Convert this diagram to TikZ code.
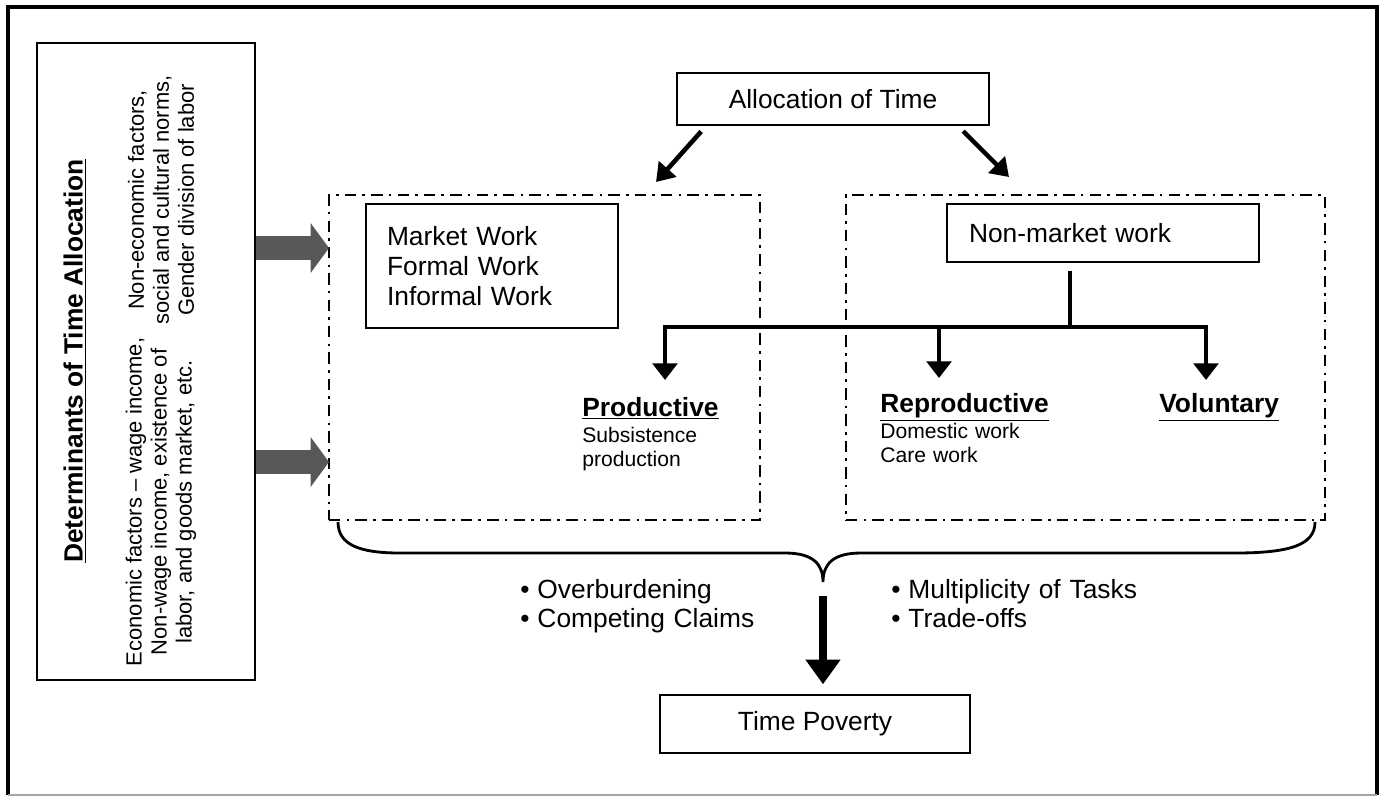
\documentclass[tikz,border=0pt]{standalone}
\usepackage{fontspec}
\setmainfont{Liberation Sans}
\usetikzlibrary{arrows.meta,positioning}
\definecolor{blockgray}{RGB}{88,88,88}
\newcommand{\bigfont}{\fontsize{15}{17}\selectfont}
\newcommand{\subfont}{\fontsize{12}{14}\selectfont}
\newcommand{\sidefont}{\fontsize{12.5}{14.2}\selectfont}

\begin{document}
\begin{tikzpicture}[x=0.02cm,y=-0.02cm,
  box/.style={draw,line width=0.8pt,inner sep=0pt,font=\bigfont},
  area/.style={draw,line width=1.4pt,dash pattern=on 6.5pt off 3.5pt on 1.5pt off 3.5pt},
  head/.style={font=\bigfont\bfseries,inner sep=0pt,anchor=base west},
  subtext/.style={font=\subfont,inner sep=0pt,anchor=base west,text width=3.5cm,align=left},
  listtext/.style={font=\bigfont,inner sep=0pt,anchor=base west,text width=6cm,align=left},
  blockarrow/.style={blockgray,line width=14pt,-{Triangle[length=10.5pt,width=28pt]}},
  thickarrow/.style={line width=2.6pt,-{Triangle[length=10pt,width=13pt]}},
  treeline/.style={line width=2.3pt},
  treearrow/.style={line width=2.3pt,-{Triangle[length=9.5pt,width=14pt]}},
  bigarrow/.style={line width=4pt,-{Triangle[length=14pt,width=19pt]}}]

\useasboundingbox (0,0) rectangle (1385,796);

%frame:
\draw[line width=2.2pt] (8,795) -- (8,7) -- (1377,7) -- (1377,795);
\draw[gray!70,line width=0.6pt] (8,795) -- (1377,795);

%determinants:
\node[box,line width=1.6pt,minimum width=4.36cm,minimum height=12.74cm] (detbox) at (146,361.5) {};
\node[rotate=90,font=\bigfont\bfseries] (dettitle) at (75,361) {\underline{Determinants of Time Allocation}};
\node[rotate=90,font=\sidefont,align=center] (econ) at (161,502) {Economic factors – wage income,\\Non-wage income, existence of\\labor, and goods market, etc.};
\node[rotate=90,font=\sidefont,align=center] (noneco) at (161,200) {Non-economic factors,\\social and cultural norms,\\Gender division of labor};

%work areas:
\node[area,minimum width=8.62cm,minimum height=6.5cm] (mktarea) at (544.5,357.5) {};
\node[area,minimum width=9.58cm,minimum height=6.5cm] (nmarea) at (1085.5,357.5) {};

\coordinate (upin) at (329,248);
\coordinate (lowin) at (329,462);
\draw[blockarrow] (detbox.east |- upin) -- (upin);
\draw[blockarrow] (detbox.east |- lowin) -- (lowin);

%allocation:
\node[box,line width=1pt,minimum width=6.24cm,minimum height=1.04cm] (alloc) at (833,99) {Allocation of Time};
\coordinate (atipL) at (656,182);
\coordinate (atipR) at (1009,177);
\draw[thickarrow,shorten <=0.15cm] ([xshift=0.6cm]alloc.south west) -- (atipL);
\draw[thickarrow,shorten <=0.15cm] ([xshift=-0.64cm]alloc.south east) -- (atipR);

\node[box,minimum width=5.04cm,minimum height=2.48cm,text width=4.2cm,inner xsep=0.42cm,align=left] (market) at (492,266) {Market Work\\Formal Work\\Informal Work};
\node[box,minimum width=6.24cm,minimum height=1.16cm,text width=5.36cm,inner xsep=0.44cm,align=left] (nonmkt) at (1103,233) {Non-market work};

%tree:
\coordinate (barmid) at (1070,327);
\coordinate (repjoin) at (939,327);
\coordinate (prodtip) at (665,380);
\coordinate (reptip) at (939,378);
\coordinate (voltip) at (1206,380);
\draw[treeline,shorten <=0.16cm] (nonmkt.south -| barmid) -- (barmid);
\draw[treearrow] (barmid) -| (prodtip);
\draw[treearrow] (barmid) -| (voltip);
\draw[treearrow] (repjoin) -- (reptip);

\node[head] (prod) at (582,416) {\underline{Productive}};
\node[subtext] (prodsub) at (582,442) {Subsistence\\production};
\node[head] (rep) at (880,412) {\underline{Reproductive}};
\node[subtext] (repsub) at (880,438) {Domestic work\\Care work};
\node[head] (vol) at (1159,412) {\underline{Voluntary}};

%brace:
\coordinate (bracel) at (338,522);
\coordinate (bracer) at (1315,522);
\coordinate (bracemid) at (823,582);
\draw[line width=1.6pt] (bracel) .. controls (338,545) and (360,553) .. (400,553) -- (785,553)
  .. controls (813,553) and (823,564) .. (bracemid)
  .. controls (823,564) and (833,553) .. (861,553) -- (1235,553)
  .. controls (1290,553) and (1315,545) .. (bracer);

\node[listtext] (claimsL) at (520,598) {\textbullet\hspace{4.5pt}Overburdening\\\textbullet\hspace{4.5pt}Competing Claims};
\node[listtext] (claimsR) at (891,598) {\textbullet\hspace{4.5pt}Multiplicity of Tasks\\\textbullet\hspace{4.5pt}Trade-offs};

%time poverty:
\node[box,minimum width=6.2cm,minimum height=1.16cm] (poverty) at (815,724) {Time Poverty};
\draw[bigarrow,shorten <=0.28cm,shorten >=0.2cm] (bracemid) -- (poverty.north -| bracemid);

\end{tikzpicture}
\end{document}
